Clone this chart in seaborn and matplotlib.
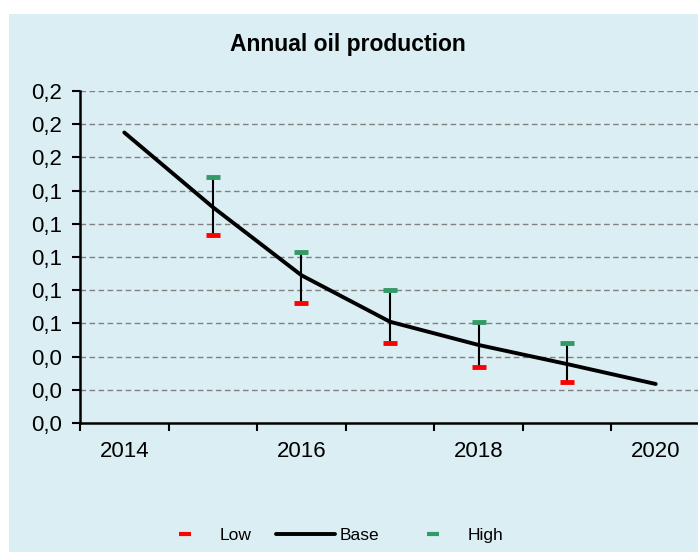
import numpy as np
import pandas as pd
import matplotlib
matplotlib.use("Agg")
import matplotlib.pyplot as plt
from matplotlib.lines import Line2D
from matplotlib.patches import Rectangle
import seaborn as sns

# values
years = [2014, 2015, 2016, 2017, 2018, 2019, 2020]
base = [0.175, 0.130, 0.089, 0.061, 0.047, 0.0355, 0.0235]
range_years = [2015, 2016, 2017, 2018, 2019]
low = [0.113, 0.072, 0.048, 0.034, 0.025]
high = [0.148, 0.103, 0.080, 0.061, 0.048]
year_labels = [2014, 2016, 2018, 2020]

bg = "#DAEEF3"
red = "#FF0000"
green = "#339966"

sns.set_style("white")
plt.rcParams["font.family"] = ["Liberation Sans", "DejaVu Sans"]
plt.rcParams["text.color"] = "black"
plt.rcParams["xtick.color"] = "black"
plt.rcParams["ytick.color"] = "black"

df = pd.DataFrame({"year": years, "base": base})

fig = plt.figure(figsize=(6.98, 5.52), dpi=100, facecolor="white")
fig.patches.append(Rectangle((9 / 698, 0), 1, 1 - 14 / 552, transform=fig.transFigure,
                             facecolor=bg, edgecolor="none", zorder=-1))
ax = fig.add_axes([80 / 698, 1 - 423 / 552, 620 / 698, 332 / 552])
ax.set_facecolor(bg)

# grid
ax.set_ylim(0, 0.2)
ax.set_xlim(2013.5, 2020.5)
yt = np.arange(0, 0.2001, 0.02)
ax.set_yticks(yt)
ax.set_yticklabels([f"{v:.1f}".replace(".", ",") for v in yt])
for v in yt[1:]:
    ax.axhline(v, color="#808080", lw=1.0, ls=(0, (4, 2.5)), zorder=0)

# error ranges
ax.vlines(range_years, low, high, color="black", lw=1.5, zorder=2)
ax.plot(range_years, low, ls="none", marker="_", markersize=10, mew=3.5, color=red, zorder=3)
ax.plot(range_years, high, ls="none", marker="_", markersize=10, mew=3.5, color=green, zorder=3)

# base line
sns.lineplot(data=df, x="year", y="base", color="black", lw=2.8, ax=ax, zorder=4)
ax.set_xlabel("")
ax.set_ylabel("")

# category-style x axis: ticks between years, labels every other year
ax.set_xticks(np.arange(2013.5, 2020.6, 1))
ax.set_xticklabels([])
ax.set_xticks(year_labels, minor=True)
ax.set_xticklabels([str(y) for y in year_labels], minor=True)
ax.tick_params(axis="x", which="major", bottom=True, direction="out", length=6, width=1.5,
               color="black")
ax.tick_params(axis="x", which="minor", bottom=True, length=0, pad=13, labelsize=16,
               labelcolor="black")
ax.tick_params(axis="y", left=True, direction="out", length=6, width=1.5, color="black",
               pad=7, labelsize=16, labelcolor="black")

for s in ["top", "right"]:
    ax.spines[s].set_visible(False)
for s in ["left", "bottom"]:
    ax.spines[s].set_color("black")
    ax.spines[s].set_linewidth(1.8)

fig.text(0.499, 1 - 45 / 552, "Annual oil production", ha="center", va="center",
         fontsize=16.5, fontweight="bold", color="black")

handles = [
    Line2D([], [], ls="none", marker="_", markersize=8, mew=3, color=red),
    Line2D([], [], color="black", lw=2.8),
    Line2D([], [], ls="none", marker="_", markersize=8, mew=3, color=green),
]
fig.legend(handles, ["Low", "Base", "High"], loc="center", bbox_to_anchor=(0.472, 17 / 552),
           ncol=3, frameon=False, fontsize=12.5, handlelength=3.4, handletextpad=0.3,
           columnspacing=1.4)

fig.savefig("out.png", dpi=100, facecolor="white")
